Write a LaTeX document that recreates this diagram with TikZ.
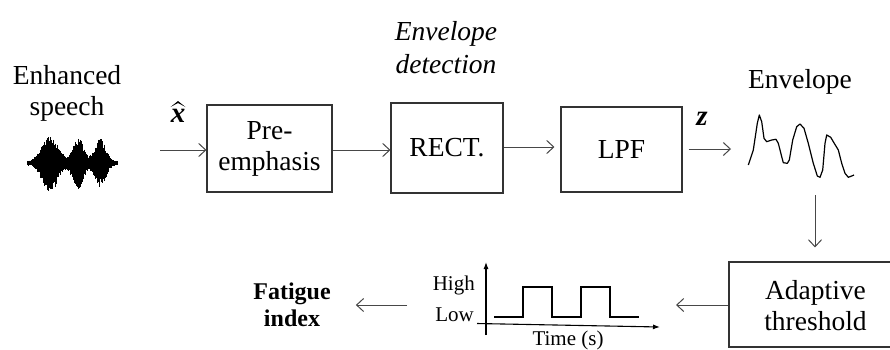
\documentclass[tikz,border=0pt]{standalone}
\usepackage{fontspec}
\setmainfont{Liberation Serif}
\usetikzlibrary{arrows.meta,calc}
\begin{document}
\begin{tikzpicture}[x=1pt,y=-1pt,
  lbl/.style={font=\fontsize{27.5}{31}\selectfont, align=center, inner sep=0pt},
  blk/.style={draw=black!80, line width=1.1pt, inner sep=0pt, align=center,
              font=\fontsize{27.5}{31}\selectfont},
  con/.style={draw=black!72, line width=1pt, -{Straight Barb[length=7pt,width=13pt,line width=1pt]}},
  small/.style={font=\fontsize{21}{24}\selectfont, inner sep=0pt},
  axis/.style={line width=1.1pt, -{Latex[length=7pt,width=5pt]}},
  var/.style={inner sep=0pt, font=\fontsize{29}{29}\selectfont\bfseries\itshape}
]
\useasboundingbox (0,0) rectangle (890,349);
\clip (0,0) rectangle (890,349);

% labels
\node[lbl] (enh) at (67,93) {Enhanced\\speech};
\node[lbl, font=\fontsize{27.5}{33}\selectfont\itshape] (envdet) at (446,48) {Envelope\\detection};
\node[lbl] (envlbl) at (800,82) {Envelope};

% blocks
\node[blk, minimum width=125pt, minimum height=87pt] (pre) at (269.5,148.5) {Pre-\\emphasis};
\node[blk, minimum width=112pt, minimum height=90pt] (rect) at (447,148) {RECT.};
\node[blk, minimum width=121pt, minimum height=85pt] (lpf) at (621.5,149.5) {LPF};
\node[blk, minimum width=166pt, minimum height=85pt] (adapt) at (812,304.5) {};
\node[lbl] (adtext) at (815.5,306) {Adaptive\\threshold};

% speech waveform
\pgfmathsetseed{7}
\foreach \x in {27,27.5,...,117}{
  \pgfmathsetmacro{\env}{2+27*exp(-((\x-50)/11)^2)+24*exp(-((\x-78)/7.5)^2)+23*exp(-((\x-100)/7.5)^2)}
  \pgfmathsetmacro{\up}{\env*(0.6+0.4*rnd)}
  \pgfmathsetmacro{\dn}{\env*(0.6+0.4*rnd)}
  \draw[black, line width=0.7pt] (\x,163-\up) -- (\x,163+\dn);
}

% input
\coordinate (xin) at (160,150);
\node[var] (xhat) at (178,116) {x};
\fill ($(xhat.center)+(-7.5,-9)$) -- ($(xhat.center)+(0,-15)$) -- ($(xhat.center)+(7.5,-9)$) -- ($(xhat.center)+(0,-13)$) -- cycle;
\draw[con] (xin) -- (xin -| pre.west);
\draw[con] (pre.east |- 0,150) -- (rect.west |- 0,150);
\draw[con, shorten >=6pt] (rect.east |- 0,147) -- (lpf.west |- 0,147);
\coordinate (envIn) at (731,149);
\draw[con] (lpf.east |- 0,149) ++(6,0) -- (envIn);
\node[var] (zlbl) at (702,119) {z};

% envelope waveform
\draw[black, line width=1.2pt, line join=round] (748.3,165) -- (753.3,150) -- (757.3,123.3) -- (759.3,115) -- (761.7,121.7) -- (764,138.3) -- (766.7,141.7) -- (771.7,140) -- (776,139.3) -- (778.3,143.3) -- (781.7,156.7) -- (783.3,162.7) -- (787.3,163.3) -- (789.3,160) -- (792.7,140) -- (796.7,126.7) -- (800,124) -- (804,128.3) -- (808.3,143.3) -- (813.3,163.3) -- (817.3,176) -- (820,177.3) -- (822.7,170) -- (825,143.3) -- (826.7,135) -- (830.7,137.3) -- (833.3,141.7) -- (838.3,150) -- (841.7,163.3) -- (845,173.3) -- (848.3,177.3) -- (851.7,176) -- (854,175);

\coordinate (envOut) at (815,195);
\draw[con, shorten >=14pt] (envOut) -- (envOut |- adapt.north);

% plot
\coordinate (plotR) at (676,305);
\draw[con] (adapt.west |- plotR) -- (plotR);
\draw[axis] (486,335) -- (486,262);
\draw[axis] (477,323.5) -- (660,327);
\draw[line width=1.9pt, line join=miter] (494,317.3) -- (523.3,317.3) -- (523.3,286.7) -- (552,286.7) -- (552,317.3) -- (581,317.3) -- (581,286.7) -- (610,286.7) -- (610,317.3) -- (639.3,317.3);
\node[small, anchor=east] (high) at (475,285) {High};
\node[small, anchor=east] (low) at (474,315) {Low};
\node[small] (time) at (568,340) {Time (s)};

\coordinate (plotL) at (407,305);
\node[lbl, font=\fontsize{24}{27}\selectfont\bfseries] (fat) at (292,305) {Fatigue\\index};
\draw[con, shorten >=25pt] (plotL) -- (fat.east |- plotL);
\end{tikzpicture}
\end{document}
